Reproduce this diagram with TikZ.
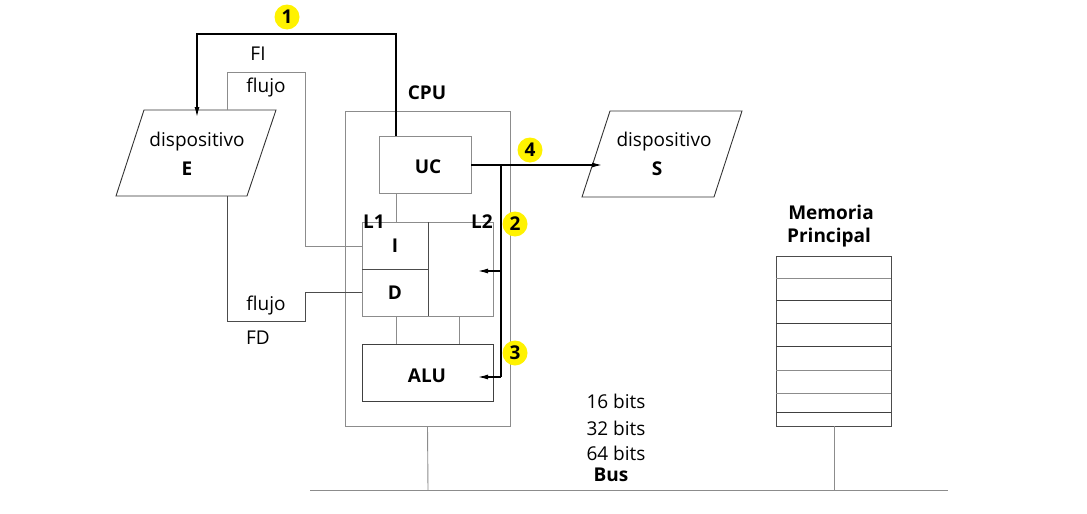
\documentclass[tikz,border=0pt]{standalone}
\usepackage{fontspec}
\setmainfont{Open Sans}
\usetikzlibrary{arrows.meta,shapes.geometric}
\begin{document}
\begin{tikzpicture}[x=1pt,y=-1pt,
  txt/.style={inner sep=0pt,font=\fontsize{19}{21}\selectfont},
  btxt/.style={inner sep=0pt,font=\fontsize{19}{21}\selectfont\bfseries},
  gbox/.style={draw=black!45,line width=0.9pt},
  dbox/.style={draw=black!75,line width=0.9pt},
  glin/.style={draw=black!45,line width=0.9pt},
  dlin/.style={draw=black!70,line width=0.9pt},
  blin/.style={draw=black,line width=1.2pt},
  arr/.style={-{Latex[length=10pt,width=5pt]}},
  num/.style={circle,fill=yellow,inner sep=0pt,minimum size=25pt,font=\fontsize{19}{21}\selectfont\bfseries},
  para/.style={draw=black!80,line width=0.9pt}
]
\useasboundingbox (0,0) rectangle (1087,514);

% devices
\draw[para] (144,110) -- (276,110) -- (247,196) -- (116,196) -- cycle;
\coordinate (Etop) at (197,110);
\coordinate (EtopL) at (227,110);
\coordinate (EbotL) at (227,196);
\node[txt] (Edisp) at (197,142) {dispositivo};
\node[btxt] (Elab) at (187,169) {E};

\draw[para] (610,111) -- (742,111) -- (714,197) -- (582,197) -- cycle;
\coordinate (Sin) at (602,165);
\node[txt] (Sdisp) at (664,142) {dispositivo};
\node[btxt] (Slab) at (657,169) {S};

% CPU
\node[gbox,minimum width=165pt,minimum height=315pt,inner sep=0pt] (cpu) at (427.5,268.5) {};
\node[btxt] (cpulab) at (427,93) {CPU};
\node[gbox,minimum width=92pt,minimum height=57pt,inner sep=0pt] (uc) at (425,164.5) {};
\node[btxt] at (428,167) {UC};

% L1 / L2
\draw[glin] (362,222) rectangle (493,316);
\draw[dlin] (428,222) -- (428,316);
\draw[dlin] (362,269) -- (428,269);
\coordinate (L1left) at (362,246);
\coordinate (D1left) at (362,292);
\node[btxt] (L1lab) at (374,222) {L1};
\node[btxt] (L2lab) at (482,222) {L2};
\node[btxt] (Ilab) at (395,246) {I};
\node[btxt] (Dlab) at (395,293) {D};
\coordinate (L2in) at (478,271);

% ALU
\node[dbox,minimum width=131pt,minimum height=57pt,inner sep=0pt] (alu) at (427.5,372.5) {};
\node[btxt] at (427,376) {ALU};
\coordinate (ALUin) at (478,377);

% internal gray links
\draw[glin] (396,193) -- (396,222);
\draw[glin] (396,316) -- (396,344);
\draw[glin] (459,316) -- (459,344);

% flujo lines
\draw[glin] (EtopL) -- (227,72) -- (305,72) -- (305,246) -- (L1left);
\draw[dlin] (EbotL) -- (227,321) -- (305,321) -- (305,292) -- (D1left);
\node[txt] (FI) at (258,54) {FI};
\node[txt] (flujo1) at (266,88) {flujo};
\node[txt] (flujo2) at (266,306) {flujo};
\node[txt] (FD) at (258,338) {FD};

% control path 1
\draw[blin,arr] (396,136) -- (396,34) -- (197,34) -- (197,117);
\node[num] (n1) at (287,17) {1};

% UC to S, L2, ALU
\coordinate (ucR) at (471,165);
\coordinate (split) at (501,165);
\draw[blin,arr] (ucR) -- (Sin);
\draw[blin] (split) -- (501,377);
\draw[blin,arr] (501,271) -- (L2in);
\draw[blin,arr] (501,377) -- (ALUin);
\node[num] (n4) at (530,150) {4};
\node[num] (n2) at (515,224) {2};
\node[num] (n3) at (515,353) {3};

% Memory
\node[btxt] (mem1) at (831,212) {Memoria};
\node[btxt] (mem2) at (829,238) {Principal};
\draw[dlin] (776,256) rectangle (891,426);
\foreach \yy/\c in {278/black!45,300/black!75,323/black!75,346/black!75,370/black!45,393/black!45,412/black!75}
  \draw[draw=\c,line width=0.9pt] (776,\yy) -- (891,\yy);
\coordinate (memB) at (834,426);

% Bus
\coordinate (busL) at (310,490);
\coordinate (busR) at (948,490);
\draw[glin] (busL) -- (busR);
\draw[glin] (cpu.south) -- (428,490);
\draw[glin] (memB) -- (834,490);
\node[btxt] (bus) at (611,475) {Bus};
\node[txt] (b16) at (616,401) {16 bits};
\node[txt] (b32) at (616,428) {32 bits};
\node[txt] (b64) at (616,453) {64 bits};
\end{tikzpicture}
\end{document}
